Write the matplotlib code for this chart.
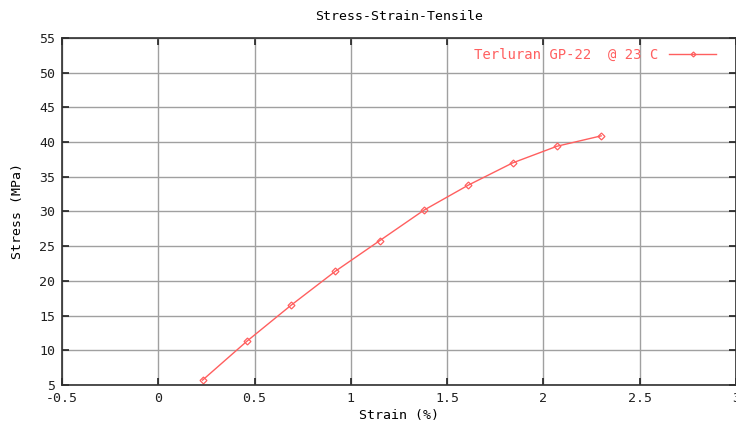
import matplotlib
matplotlib.use("Agg")
from matplotlib import pyplot as plt

# strain (%) vs stress (MPa)
strain = [0.23, 0.46, 0.69, 0.92, 1.15, 1.38, 1.61, 1.84, 2.07, 2.30]
stress = [5.7, 11.3, 16.5, 21.4, 25.8, 30.2, 33.8, 37.0, 39.4, 40.9]
x_ticks = [-0.5, 0, 0.5, 1, 1.5, 2, 2.5, 3]
y_ticks = [5, 10, 15, 20, 25, 30, 35, 40, 45, 50, 55]
series_name = "Terluran GP-22  @ 23 C"

plt.rcParams["font.family"] = "DejaVu Sans Mono"
red = "#ff5f5f"

fig = plt.figure(figsize=(7.36, 4.28), dpi=100)
ax = fig.add_axes([0.0842, 0.1005, 0.9158, 0.8107])

ax.plot(strain, stress, color=red, lw=1, marker="D", markersize=3.5,
        markerfacecolor="none", markeredgecolor=red, markeredgewidth=0.9,
        label=series_name)

ax.set_xlim(-0.5, 3)
ax.set_ylim(5, 55)
ax.set_xticks(x_ticks)
ax.set_xticklabels(["-0.5", "0", "0.5", "1", "1.5", "2", "2.5", "3"])
ax.set_yticks(y_ticks)
ax.grid(True, color="#a0a0a0", lw=1)
ax.set_axisbelow(True)
ax.tick_params(direction="in", top=True, right=True, length=5, width=1.2,
               labelsize=9.5, pad=5, colors="#202020")
for sp in ax.spines.values():
    sp.set_color("#303030")
    sp.set_linewidth(1.2)

ax.set_title("Stress-Strain-Tensile", fontsize=9.5, pad=13)
ax.set_xlabel("Strain (%)", fontsize=9.5, labelpad=3)
ax.set_ylabel("Stress (MPa)", fontsize=9.5, labelpad=11)

leg = ax.legend(loc="upper right", frameon=False, markerfirst=False,
                fontsize=10, handlelength=3.4, borderaxespad=0.3,
                bbox_to_anchor=(0.985, 1.0))
for t in leg.get_texts():
    t.set_color(red)
leg.legend_handles[0].set_markersize(2.5)

plt.savefig("out.png", dpi=100)
